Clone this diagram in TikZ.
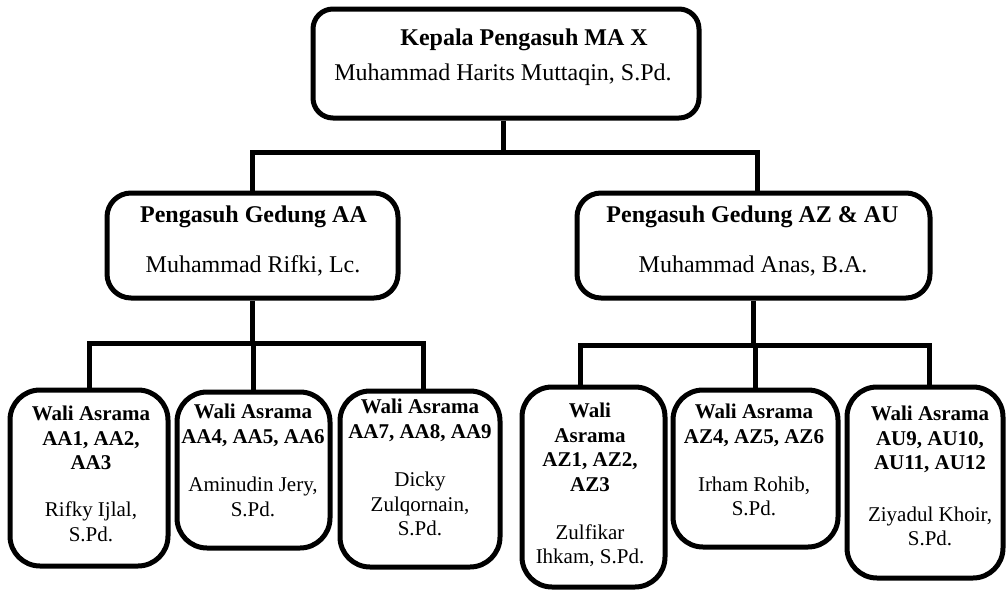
\documentclass[tikz,border=0pt]{standalone}
\usepackage{fontspec}
\setmainfont{Liberation Serif}
\begin{document}
\begin{tikzpicture}[x=0.5pt,y=-0.5pt,
  box/.style={draw=black, line width=2.5pt, rounded corners=#1, inner sep=0pt},
  box/.default=15pt,
  conn/.style={draw=black, line width=2.5pt},
  bigtxt/.style={inner sep=0pt, anchor=base, font=\fontsize{12}{14}\selectfont},
  smalltxt/.style={inner sep=0pt, anchor=north, align=center, font=\fontsize{10.5}{12.25}\selectfont}]
\useasboundingbox (0,0) rectangle (1008,590);

% boxes
\node[box=10pt, minimum width=193pt, minimum height=54.5pt] (top) at (506,63.5) {};
\node[box=12pt, minimum width=145.5pt, minimum height=52.5pt] (ml) at (252.5,245.5) {};
\node[box=12pt, minimum width=176.5pt, minimum height=52.5pt] (mr) at (753.5,245.5) {};
\node[box, minimum width=79pt, minimum height=88pt] (b1) at (89,478) {};
\node[box, minimum width=76.5pt, minimum height=78pt] (b2) at (253.5,470) {};
\node[box, minimum width=80pt, minimum height=88pt] (b3) at (420,479) {};
\node[box, minimum width=71.5pt, minimum height=100pt] (b4) at (593.5,487) {};
\node[box, minimum width=82.5pt, minimum height=78.5pt] (b5) at (755.5,468.5) {};
\node[box, minimum width=78pt, minimum height=95.5pt] (b6) at (925,482.5) {};

% texts
\node[bigtxt] (topt1) at (524,45) {\textbf{Kepala Pengasuh MA X}};
\node[bigtxt] (topt2) at (503,80) {Muhammad Harits Muttaqin, S.Pd.};
\node[bigtxt] (mlt1) at (253.5,222) {\textbf{Pengasuh Gedung AA}};
\node[bigtxt] (mlt2) at (253,272) {Muhammad Rifki, Lc.};
\node[bigtxt] (mrt1) at (752.5,222) {\textbf{Pengasuh Gedung AZ \& AU}};
\node[bigtxt] (mrt2) at (753,272) {Muhammad Anas, B.A.};

\node[smalltxt] (b1t) at (91,406) {\textbf{Wali Asrama}\\\textbf{AA1, AA2,}\\\textbf{AA3}\\[11.25pt]Rifky Ijlal,\\S.Pd.};
\node[smalltxt] (b2t) at (253,404) {\textbf{Wali Asrama}\\\textbf{AA4, AA5, AA6}\\[12pt]Aminudin Jery,\\S.Pd.};
\node[smalltxt] (b3t) at (420,399) {\textbf{Wali Asrama}\\\textbf{AA7, AA8, AA9}\\[12pt]Dicky\\Zulqornain,\\S.Pd.};
\node[smalltxt] (b4t) at (590,403) {\textbf{Wali}\\\textbf{Asrama}\\\textbf{AZ1, AZ2,}\\\textbf{AZ3}\\[11.75pt]Zulfikar\\Ihkam, S.Pd.};
\node[smalltxt] (b5t) at (754,404) {\textbf{Wali Asrama}\\\textbf{AZ4, AZ5, AZ6}\\[11.75pt]Irham Rohib,\\S.Pd.};
\node[smalltxt] (b6t) at (930,406) {\textbf{Wali Asrama}\\\textbf{AU9, AU10,}\\\textbf{AU11, AU12}\\[13.5pt]Ziyadul Khoir,\\S.Pd.};

% junctions
\coordinate (j1) at (503,152);
\coordinate (j2) at (252,343);
\coordinate (j3) at (754,345);

% connectors
\draw[conn] (top.south -| j1) -- (j1);
\draw[conn] (ml.north) |- (j1) -| ([xshift=2pt]mr.north);
\draw[conn] (ml.south) -- (ml.south |- j2);
\draw[conn] (b1.north) |- (j2) -| ([xshift=1.5pt]b3.north);
\draw[conn] (b2.north) -- (b2.north |- j2);
\draw[conn] (mr.south) -- (mr.south |- j3);
\draw[conn] ([xshift=-6.75pt]b4.north) |- (j3) -| ([xshift=2pt]b6.north);
\draw[conn] (b5.north) -- (b5.north |- j3);
\end{tikzpicture}
\end{document}
